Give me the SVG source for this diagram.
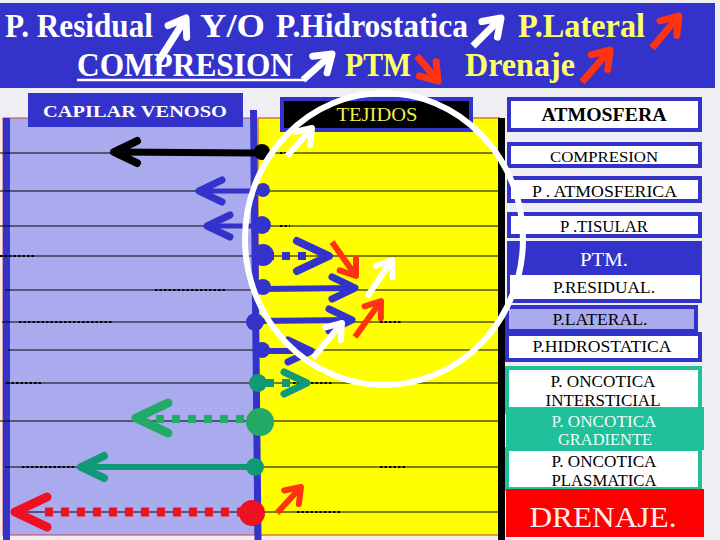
<svg xmlns="http://www.w3.org/2000/svg" xmlns:xlink="http://www.w3.org/1999/xlink" width="720" height="540" viewBox="0 0 720 540">
<style>
.f{font-family:"Liberation Serif","Times New Roman",serif}
.hb{font-weight:bold;font-size:34px;fill:#fff}
.hy{fill:#ffff66}
.ln{stroke:#000;stroke-width:1.2}
.ds{stroke:#000;stroke-width:1.8;stroke-dasharray:2.5 2}
.bx{stroke:#3333cc;stroke-width:4}
.tb{stroke:#20c09a;stroke-width:4}
.rt{font-size:16px;text-anchor:middle;fill:#000}
.blk{stroke:#000;fill:none}
.blu{stroke:#3333cc;fill:none}
.tea{stroke:#119977;fill:none}
.grn{stroke:#22aa66;fill:none}
.red{stroke:#ee1122;fill:none}
.org{stroke:#ff3311;fill:none}
.wht{stroke:#fff;fill:none}
.dot{stroke-dasharray:8 8}
</style>
<defs>
<path id="hS" d="M-23,-11 L0,0 L-23,11" stroke-linecap="round" stroke-linejoin="round" fill="none"/>
<path id="hL" d="M-32,-15 L0,0 L-32,15" stroke-linecap="round" stroke-linejoin="round" fill="none"/>
<path id="hD" d="M-14,-10 L0,0 L-14,10" stroke-linecap="round" stroke-linejoin="round" fill="none"/>
<path id="hB" d="M-16,-11 L0,0 L-16,11" stroke-linecap="round" stroke-linejoin="round" fill="none"/>
</defs>
<rect width="720" height="540" fill="#efeff3"/>
<rect x="0" y="535" width="505" height="5" fill="#f5eeee"/>

<g id="banner">
<rect x="0" y="3" width="715" height="85" fill="#3333cc"/>
<text class="f hb" x="5" y="37" textLength="148" lengthAdjust="spacingAndGlyphs">P. Residual</text>
<text class="f hb" x="200" y="37" textLength="65" lengthAdjust="spacingAndGlyphs">Y/O</text>
<text class="f hb" x="276" y="37" textLength="192" lengthAdjust="spacingAndGlyphs">P.Hidrostatica</text>
<text class="f hb hy" x="518" y="37" textLength="127" lengthAdjust="spacingAndGlyphs">P.Lateral</text>
<text class="f hb" x="77" y="76" textLength="216" lengthAdjust="spacingAndGlyphs">COMPRESION</text>
<line x1="77" y1="80" x2="306" y2="80" stroke="#fff" stroke-width="2.5"/>
<text class="f hb hy" x="345" y="76" textLength="66" lengthAdjust="spacingAndGlyphs">PTM</text>
<text class="f hb hy" x="465" y="76" textLength="110" lengthAdjust="spacingAndGlyphs">Drenaje</text>
<g stroke-width="7">
<line class="wht" x1="158" y1="62" x2="186" y2="18"/><use href="#hB" class="wht" transform="translate(186,18) rotate(-57.5)"/>
<line class="wht" x1="473" y1="46" x2="501" y2="18"/><use href="#hB" class="wht" transform="translate(501,18) rotate(-45)"/>
<line class="org" x1="652" y1="48" x2="679" y2="16"/><use href="#hB" class="org" transform="translate(679,16) rotate(-48.8)"/>
<line class="wht" x1="303" y1="80" x2="332" y2="54"/><use href="#hB" class="wht" transform="translate(332,54) rotate(-40.9)"/>
<line class="org" x1="417" y1="56" x2="438" y2="81"/><use href="#hB" class="org" transform="translate(438,81) rotate(50)"/>
<line class="org" x1="582" y1="82" x2="610" y2="50"/><use href="#hB" class="org" transform="translate(610,50) rotate(-48.8)"/>
</g>
</g>

<g id="capilar-venoso-panel">
<rect x="3" y="118" width="252" height="417" fill="#aaaaee" stroke="#d04040" stroke-width="1"/>
<rect x="3" y="118" width="7" height="422" fill="#3333cc"/>
</g>
<g id="tejidos-panel">
<rect x="258" y="118" width="242" height="417" fill="#ffff00" stroke="#cc3333" stroke-width="1"/>
<rect x="498" y="118" width="7" height="422" fill="#000"/>
</g>

<g id="lines">
<line class="ln" x1="0" y1="153" x2="500" y2="153"/>
<line class="ln" x1="0" y1="191" x2="500" y2="191"/>
<line class="ln" x1="0" y1="226" x2="500" y2="226"/>
<line class="ln" x1="0" y1="256" x2="500" y2="256"/>
<line class="ln" x1="5" y1="290" x2="500" y2="290"/>
<line class="ln" x1="2" y1="322" x2="500" y2="322"/>
<line class="ln" x1="8" y1="350" x2="500" y2="350"/>
<line class="ln" x1="5" y1="383" x2="500" y2="383"/>
<line class="ln" x1="0" y1="421" x2="500" y2="421"/>
<line class="ln" x1="5" y1="467" x2="500" y2="467"/>
<line class="ln" x1="12" y1="512" x2="500" y2="512"/>
<line class="ds" x1="0" y1="256" x2="36" y2="256"/>
<line class="ds" x1="155" y1="290" x2="225" y2="290"/>
<line class="ds" x1="19" y1="322" x2="112" y2="322"/>
<line class="ds" x1="7" y1="383" x2="42" y2="383"/>
<line class="ds" x1="22" y1="467" x2="75" y2="467"/>
<line class="ds" x1="280" y1="153" x2="290" y2="153"/>
<line class="ds" x1="280" y1="226" x2="290" y2="226"/>
<line class="ds" x1="380" y1="322" x2="402" y2="322"/>
<line class="ds" x1="293" y1="383" x2="333" y2="383"/>
<line class="ds" x1="380" y1="467" x2="405" y2="467"/>
<line class="ds" x1="297" y1="512" x2="340" y2="512"/>
</g>

<line x1="253.5" y1="110" x2="258" y2="540" stroke="#3333cc" stroke-width="7"/>

<g id="capilar-label">
<rect x="28" y="93" width="215" height="34" fill="#3333cc"/>
<text class="f" x="135" y="117" font-size="17" font-weight="bold" fill="#fff" text-anchor="middle" textLength="184" lengthAdjust="spacingAndGlyphs">CAPILAR  VENOSO</text>
</g>
<g id="tejidos-label">
<rect x="282" y="99" width="189" height="31" fill="#000" class="bx"/>
<text class="f" x="377" y="121" font-size="18" fill="#eeee44" text-anchor="middle" textLength="81" lengthAdjust="spacingAndGlyphs">TEJIDOS</text>
</g>

<g id="connectors">
<g stroke-width="7">
<line class="blk" x1="258" y1="153" x2="114" y2="152"/><use href="#hS" class="blk" stroke-width="8" transform="translate(114,152) rotate(180)"/>
</g>
<g stroke-width="5">
<line class="blu" x1="258" y1="191" x2="199" y2="191"/><use href="#hS" class="blu" stroke-width="7" transform="translate(199,191) rotate(180)"/>
<line class="blu" x1="258" y1="226" x2="207" y2="226"/><use href="#hS" class="blu" stroke-width="7" transform="translate(207,226) rotate(180)"/>
</g>
<line class="blu dot" x1="266" y1="256" x2="310" y2="256" stroke-width="8"/><use href="#hL" class="blu" stroke-width="8" transform="translate(329,256)"/>
<g stroke-width="6">
<line class="blu" x1="262" y1="289" x2="355" y2="288"/><use href="#hS" class="blu" stroke-width="7" transform="translate(355,288)"/>
<line class="blu" x1="256" y1="321" x2="352" y2="320"/><use href="#hS" class="blu" stroke-width="7" transform="translate(352,320)"/>
<line class="blu" x1="262" y1="351" x2="311" y2="351"/><use href="#hS" class="blu" stroke-width="7" transform="translate(311,351)"/>
</g>
<line class="tea dot" x1="266" y1="383" x2="292" y2="383" stroke-width="8"/><use href="#hS" class="tea" stroke-width="7" transform="translate(307,383)"/>
<line class="grn dot" x1="244" y1="419" x2="156" y2="419" stroke-width="8" stroke-dasharray="9 8.5"/><use href="#hL" class="grn" stroke-width="9" transform="translate(136,418) rotate(180)"/>
<line class="tea" x1="258" y1="467" x2="81" y2="467" stroke-width="6"/><use href="#hS" class="tea" stroke-width="8" transform="translate(81,467) rotate(180)"/>
<line class="red dot" x1="245" y1="512" x2="44" y2="512" stroke-width="9"/><use href="#hL" class="red" stroke-width="9" transform="translate(15,512) rotate(180)"/>
<g stroke-width="6">
<line class="wht" x1="287" y1="156" x2="312" y2="128"/><use href="#hD" class="wht" transform="translate(312,128) rotate(-48.2)"/>
<line class="wht" x1="367" y1="297" x2="392" y2="260"/><use href="#hD" class="wht" transform="translate(392,260) rotate(-55.9)"/>
<line class="wht" x1="313" y1="358" x2="342" y2="323"/><use href="#hD" class="wht" transform="translate(342,323) rotate(-50.4)"/>
<line class="org" x1="332" y1="242" x2="356" y2="276"/><use href="#hD" class="org" transform="translate(356,276) rotate(54.5)"/>
<line class="org" x1="355" y1="337" x2="381" y2="301"/><use href="#hD" class="org" transform="translate(381,301) rotate(-53.9)"/>
<line class="org" x1="277" y1="513" x2="301" y2="487"/><use href="#hD" class="org" transform="translate(301,487) rotate(-47.2)"/>
</g>
</g>

<g id="ports">
<circle cx="262" cy="152" r="8" fill="#000"/>
<circle cx="263" cy="190" r="7" fill="#3333cc"/>
<circle cx="262" cy="225" r="9" fill="#3333cc"/>
<circle cx="263" cy="255" r="11" fill="#3333cc"/>
<circle cx="263" cy="287" r="8" fill="#3333cc"/>
<circle cx="255" cy="322" r="9" fill="#3333cc"/>
<circle cx="262" cy="350" r="8" fill="#3333cc"/>
<circle cx="258" cy="383" r="9" fill="#119977"/>
<circle cx="260" cy="422" r="14" fill="#22aa66"/>
<circle cx="255" cy="467" r="9" fill="#119977"/>
<circle cx="252" cy="513" r="13" fill="#ee1122"/>
</g>

<g id="atmosfera">
<rect x="509" y="99" width="191" height="31" fill="#fff" class="bx"/>
<text class="f rt" x="604" y="121" style="font-size:19px;font-weight:bold" textLength="125" lengthAdjust="spacingAndGlyphs">ATMOSFERA</text>
</g>
<g id="compresion">
<rect x="509" y="144" width="191" height="22" fill="#fff" class="bx"/>
<text class="f rt" x="604" y="162" style="font-size:15px" textLength="108" lengthAdjust="spacingAndGlyphs">COMPRESION</text>
</g>
<g id="p-atmosferica">
<rect x="509" y="178" width="191" height="23" fill="#fff" class="bx"/>
<text class="f rt" x="604.5" y="197" textLength="145" lengthAdjust="spacingAndGlyphs">P . ATMOSFERICA</text>
</g>
<g id="p-tisular">
<rect x="509" y="214" width="191" height="22" fill="#fff" class="bx"/>
<text class="f rt" x="604" y="232" textLength="88" lengthAdjust="spacingAndGlyphs">P .TISULAR</text>
</g>
<g id="ptm">
<rect x="507" y="241" width="195" height="62" fill="#3333cc"/>
<text class="f rt" x="604" y="266" style="font-size:19px;fill:#fff" textLength="48" lengthAdjust="spacingAndGlyphs">PTM.</text>
</g>
<g id="p-residual">
<rect x="510" y="275" width="190" height="24" fill="#fff"/>
<text class="f rt" x="604" y="293" textLength="102" lengthAdjust="spacingAndGlyphs">P.RESIDUAL.</text>
</g>
<g id="p-lateral">
<rect x="507" y="307" width="189" height="24" fill="#aaaaee" class="bx"/>
<text class="f rt" x="600" y="325" textLength="95" lengthAdjust="spacingAndGlyphs">P.LATERAL.</text>
</g>
<g id="p-hidrostatica">
<rect x="507" y="334" width="193" height="26" fill="#fff" class="bx"/>
<text class="f rt" x="602" y="352" textLength="139" lengthAdjust="spacingAndGlyphs">P.HIDROSTATICA</text>
</g>
<g id="oncotica-intersticial">
<rect x="507" y="368" width="193" height="44" fill="#fff" class="tb"/>
<text class="f rt" x="603" y="387" textLength="105" lengthAdjust="spacingAndGlyphs">P. ONCOTICA</text>
<text class="f rt" x="603" y="406" textLength="115" lengthAdjust="spacingAndGlyphs">INTERSTICIAL</text>
</g>
<g id="oncotica-plasmatica">
<rect x="507" y="449" width="193" height="40" fill="#fff" class="tb"/>
<text class="f rt" x="604" y="467" textLength="105" lengthAdjust="spacingAndGlyphs">P. ONCOTICA</text>
<text class="f rt" x="604" y="486" textLength="105" lengthAdjust="spacingAndGlyphs">PLASMATICA</text>
</g>
<g id="oncotica-gradiente">
<rect x="506" y="407" width="198" height="43" fill="#20c09a"/>
<text class="f rt" x="604" y="427" style="fill:#eefff8" textLength="105" lengthAdjust="spacingAndGlyphs">P. ONCOTICA</text>
<text class="f rt" x="605" y="445" style="fill:#eefff8" textLength="94" lengthAdjust="spacingAndGlyphs">GRADIENTE</text>
</g>
<g id="drenaje">
<rect x="506" y="489" width="198" height="48" fill="#ff0000"/>
<text class="f rt" x="603" y="527" style="font-size:30px;fill:#ffeeee" textLength="147" lengthAdjust="spacingAndGlyphs">DRENAJE.</text>
</g>

<ellipse id="ring" cx="384" cy="239" rx="139" ry="146" fill="none" stroke="#fff" stroke-width="6"/>
</svg>
